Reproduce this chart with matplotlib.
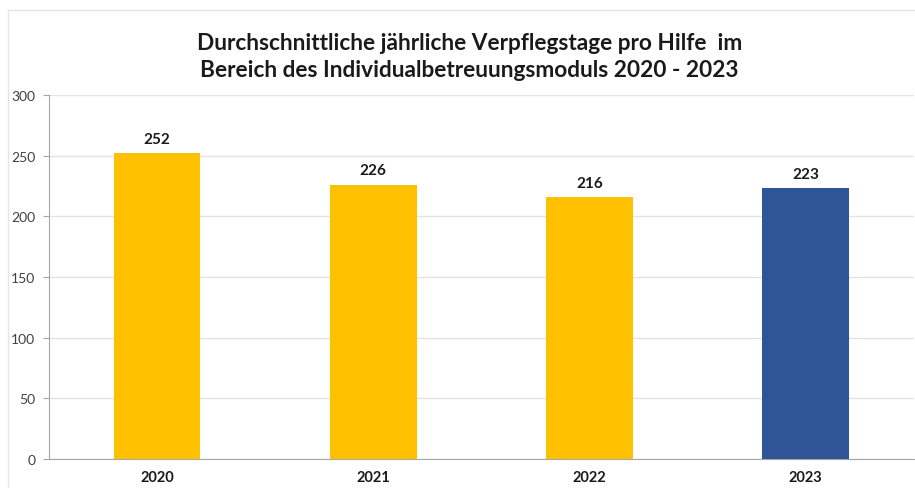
import matplotlib
matplotlib.use('Agg')
import matplotlib.pyplot as plt
from matplotlib.lines import Line2D

# Daten
jahre = ['2020', '2021', '2022', '2023']
tage = [252, 226, 216, 223]
farben = ['#FFC000', '#FFC000', '#FFC000', '#2F5597']

plt.rcParams['font.family'] = ['Lato', 'DejaVu Sans']

fig = plt.figure(figsize=(9.15, 4.89), dpi=100)
ax = fig.add_axes([0.0536, 0.0593, 0.945, 0.7444])

# Rahmen um das Diagramm (nur links und oben sichtbar)
rx, ry = 7.5 / 915, 1 - 10.5 / 489
fig.lines.append(Line2D([rx, rx], [0, ry], transform=fig.transFigure,
                        color='#E6E6E6', linewidth=1))
fig.lines.append(Line2D([rx, 1], [ry, ry], transform=fig.transFigure,
                        color='#E6E6E6', linewidth=1))

x = range(len(jahre))
bars = ax.bar(x, tage, width=0.4, color=farben, zorder=3)

for b, v in zip(bars, tage):
    ax.text(b.get_x() + b.get_width() / 2, v + 6, str(v), ha='center', va='bottom',
            fontsize=11, fontweight='bold', color='#1a1a1a')

ax.set_xlim(-0.5, len(jahre) - 0.5)
ax.set_ylim(0, 300)
ax.set_yticks(range(0, 301, 50))
ax.set_xticks(list(x))
ax.set_xticklabels(jahre, fontsize=10.5, fontweight='bold', color='#1a1a1a')
ax.tick_params(axis='y', labelsize=10, colors='#404040', length=4, color='#A6A6A6', pad=6)
ax.tick_params(axis='x', length=0, pad=8)

ax.grid(axis='y', color='#E3E3E3', linewidth=1, zorder=0)
for s in ['top', 'right']:
    ax.spines[s].set_visible(False)
ax.spines['left'].set_color('#A6A6A6')
ax.spines['bottom'].set_color('#A6A6A6')

fig.text(0.513, 0.884, 'Durchschnittliche jährliche Verpflegstage pro Hilfe  im\n'
         'Bereich des Individualbetreuungsmoduls 2020 - 2023',
         ha='center', va='center', fontsize=16.3, fontweight='bold',
         color='#1a1a1a', linespacing=1.35)

plt.savefig('out.png', dpi=100)
